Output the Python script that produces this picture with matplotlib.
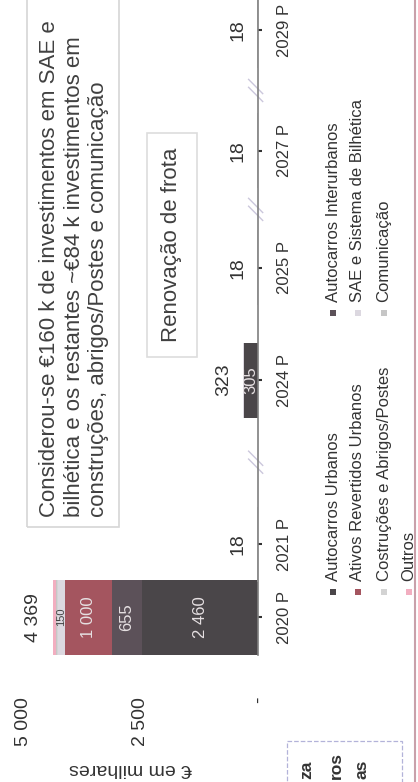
import matplotlib
matplotlib.use("Agg")
import matplotlib.pyplot as plt
from matplotlib.patches import Rectangle
from matplotlib.lines import Line2D

plt.rcParams['font.family'] = ['Liberation Sans', 'DejaVu Sans']

# dados (€ em milhares)
years = ['2020 P', '2021 P', '2024 P', '2025 P', '2027 P', '2029 P']
autocarros_urbanos = [2460, 0, 305, 0, 0, 0]
autocarros_interurbanos = [655, 0, 0, 0, 0, 0]
ativos_revertidos = [1000, 0, 0, 0, 0, 0]
sae_bilhetica = [150, 8, 8, 8, 8, 8]
construcoes = [20, 4, 4, 4, 4, 4]
comunicacao = [14, 2, 2, 2, 2, 2]
outros = [70, 4, 4, 4, 4, 4]
value_ticks = [0, 2500, 5000]
value_tick_labels = ['-', '2 500', '5 000']

note_lines = ['Considerou-se €160 k de investimentos em SAE e',
              'bilhética e os restantes ~€84 k investimentos em',
              'construções, abrigos/Postes e comunicação']
fleet_note = 'Renovação de frota'

series = [
    ('Autocarros Urbanos', autocarros_urbanos, '#4a4649'),
    ('Autocarros Interurbanos', autocarros_interurbanos, '#5c5159'),
    ('Ativos Revertidos Urbanos', ativos_revertidos, '#a4555f'),
    ('SAE e Sistema de Bilhética', sae_bilhetica, '#dcd8e0'),
    ('Costruções e Abrigos/Postes', construcoes, '#d3d3d3'),
    ('Comunicação', comunicacao, '#c6c6c6'),
    ('Outros', outros, '#f2aec0'),
]

# layout (pixels da imagem, gráfico rodado 90°)
W, H = 418, 782
def fx(x):
    return x / W
def fy(y):
    return 1 - y / H

slots = [0, 0.92, 3.0, 4.42, 5.9, 7.43]   # eixo com quebras
bar_h = 0.95
text_col = '#333333'

fig = plt.figure(figsize=(W / 100, H / 100), dpi=100)
ax = fig.add_axes([fx(5), fy(655), fx(258) - fx(5), fy(0) - fy(655)])

left = [0] * len(years)
for name, vals, col in series:
    ax.barh(slots, vals, left=left, height=bar_h, color=col, linewidth=0)
    for i, v in enumerate(vals):
        if v >= 150:
            dark = col in ('#4a4649', '#5c5159', '#a4555f')
            ax.text(left[i] + v / 2, slots[i], f'{v:,}'.replace(',', ' '),
                    rotation=90, ha='center', va='center',
                    fontsize=12 if v > 300 or dark else 8,
                    color='#e6e0e2' if dark else '#444444')
    left = [a + b for a, b in zip(left, vals)]

for s, t in zip(slots, left):
    ax.annotate(f'{t:,}'.replace(',', ' '), xy=(t, s), xytext=(-14, 0),
                textcoords='offset points', rotation=90, ha='center',
                va='center', fontsize=14, color=text_col)

ax.set_xlim(5383, 0)
ax.set_ylim(-0.48, 7.81)
for side in ('left', 'top', 'bottom'):
    ax.spines[side].set_visible(False)
ax.spines['right'].set_color('#7f7f7f')
ax.spines['right'].set_linewidth(1.2)

ax.yaxis.tick_right()
ax.set_yticks(slots)
ax.set_yticklabels(years, rotation=90, va='center')
ax.tick_params(axis='y', length=3, width=1.5, color=text_col, pad=11,
               labelsize=12, labelcolor=text_col)
ax.set_xticks(value_ticks)
ax.set_xticklabels(value_tick_labels, rotation=90)
ax.tick_params(axis='x', length=0, pad=30, labelsize=14, labelcolor=text_col)

# marcas de quebra do eixo
for i in (1, 3, 4):
    ym = (slots[i] + slots[i + 1]) / 2
    for dy in (-0.05, 0.05):
        ax.plot([-100, 200], [ym + dy - 0.09, ym + dy + 0.09], color='#cbc7dc',
                lw=1.0, clip_on=False)

fig.text(fx(131), fy(768), '€ em milhares', rotation=180, ha='center',
         va='center', fontsize=14, color=text_col)

# caixa de nota
fig.add_artist(Rectangle((fx(27), fy(527)), fx(119) - fx(27), fy(-5) - fy(527),
                         transform=fig.transFigure, fill=False,
                         edgecolor='#d6d6d6', lw=1.2))
for x, line in zip((50, 75, 99), note_lines):
    fig.text(fx(x), fy(517), line, rotation=90, ha='center', va='bottom',
             fontsize=16, color='#404040')

fig.add_artist(Rectangle((fx(147), fy(357)), fx(197) - fx(147), fy(133) - fy(357),
                         transform=fig.transFigure, fill=False,
                         edgecolor='#dddddd', lw=1.2))
fig.text(fx(172), fy(245), fleet_note, rotation=90, ha='center', va='center',
         fontsize=16, color='#404040')

# legenda manual (rodada)
rows = [333, 358, 384, 409]
cols = [592, 313]
for k, (name, vals, col) in enumerate(series):
    x = rows[k // 2]
    y = cols[k % 2]
    fig.add_artist(Rectangle((fx(x - 3), fy(y + 3)), fx(6), 6 / H,
                             transform=fig.transFigure, color=col, lw=0))
    fig.text(fx(x), fy(y - 11), name, rotation=90, ha='center', va='bottom',
             fontsize=12, color=text_col)

# restos do diapositivo
fig.add_artist(Line2D([fx(415), fx(415)], [fy(0), fy(782)],
                      transform=fig.transFigure, color='#c9a0aa', lw=1.5))
fig.add_artist(Rectangle((fx(287), fy(800)), fx(402) - fx(287), fy(741) - fy(800),
                         transform=fig.transFigure, fill=False, ls='--',
                         edgecolor='#b3b3d9', lw=0.9))
for x, y, frag in ((307, 761, 'za'), (336, 752, 'ros'), (362, 760, 'as')):
    fig.text(fx(x), fy(y), frag, rotation=90, ha='center', va='top',
             fontsize=12.5, fontweight='bold', color=text_col)

fig.savefig('out.png', dpi=100)
